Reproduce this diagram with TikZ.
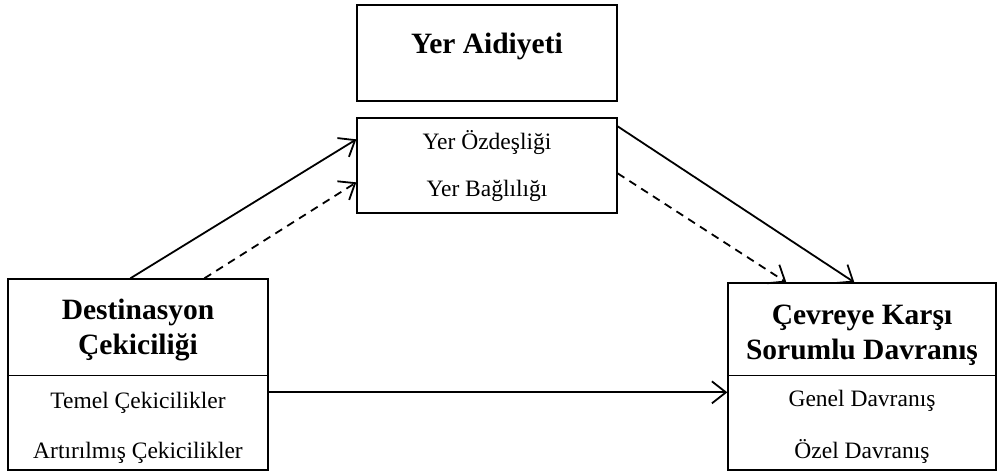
\documentclass[tikz,border=0pt]{standalone}
\usepackage{fontspec}
\setmainfont{Liberation Serif}
\usetikzlibrary{arrows.meta,calc}
\begin{document}
\begin{tikzpicture}[x=1pt,y=-1pt,
  box/.style={draw,line width=1.3pt,rectangle,inner sep=0pt},
  title/.style={font=\fontsize{29.5}{35}\selectfont\bfseries,align=center,inner sep=0pt},
  item/.style={font=\fontsize{23.5}{27}\selectfont,inner sep=0pt},
  link/.style={line width=1.8pt,-{Straight Barb[length=14pt,width=22pt,line width=1.8pt]}},
  dlink/.style={link,dash pattern=on 8pt off 6pt}]
\useasboundingbox (0,0) rectangle (997,473);

% boxes
\node[box,minimum width=260pt,minimum height=96pt] (aid) at (487,53) {};
\node[box,minimum width=260pt,minimum height=95pt] (place) at (487,165.5) {};
\node[box,minimum width=260pt,minimum height=191pt] (dest) at (138,374.5) {};
\node[box,minimum width=268pt,minimum height=187pt] (env) at (862,376.5) {};

% dividers between title and sub-dimensions
\draw[line width=1.3pt] ($(dest.north west)+(0,97)$) coordinate (dl) -- (dl -| dest.east);
\draw[line width=1.3pt] ($(env.north west)+(0,93)$) coordinate (el) -- (el -| env.east);

% texts
\node[title] (taid) at (487,46) {Yer Aidiyeti};
\node[item] (t1) at (487,143) {Yer Özdeşliği};
\node[item] (t2) at (487,191) {Yer Bağlılığı};
\node[title] (tdest) at (138,330) {Destinasyon\\Çekiciliği};
\node[item] (t3) at (138,403) {Temel Çekicilikler};
\node[item] (t4) at (138,453) {Artırılmış Çekicilikler};
\node[title] (tenv) at (862,335) {Çevreye Karşı\\Sorumlu Davranış};
\node[item] (t5) at (862,401) {Genel Davranış};
\node[item] (t6) at (862,451) {Özel Davranış};

% connectors
\draw[link] ($(dest.north west)+(123,0)$) -- ($(place.north west)+(0,22)$);
\draw[dlink] ($(dest.north west)+(197,0)$) -- ($(place.north west)+(0,65)$);
\draw[link] ($(place.north east)+(0,9)$) -- ($(env.north west)+(127,0)$);
\draw[dlink] ($(place.north east)+(0,56)$) -- ($(env.north west)+(59,0)$);
\draw[link] ($(dest.north east)+(0,114)$) -- ($(env.north west)+(0,110)$);
\end{tikzpicture}
\end{document}
